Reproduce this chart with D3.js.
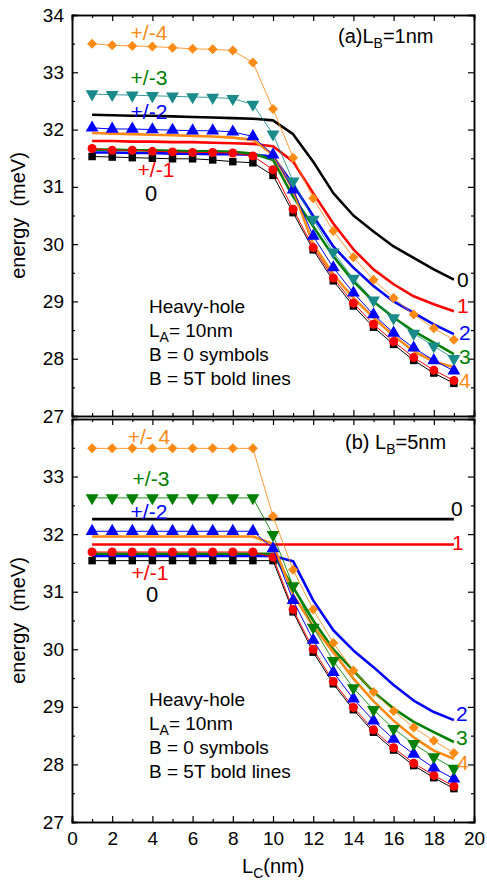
<!DOCTYPE html>
<html>
<head>
<meta charset="utf-8">
<script src="https://cdn.jsdelivr.net/npm/d3@7"></script>
<style>
  body { margin: 0; background: #fff; }
  text { font-family: "Liberation Sans", Arial, sans-serif; }
</style>
</head>
<body>
<div id="chart"></div>
<script>
// well width L_C (nm)
const lc = [1,2,3,4,5,6,7,8,9,10,11,12,13,14,15,16,17,18,19];

// (a) L_B = 1nm, B = 0 symbols (m = 0, +/-1 .. +/-4)
const symA0 = [31.53,31.52,31.51,31.50,31.49,31.49,31.47,31.44,31.42,31.20,30.55,29.90,29.36,28.92,28.55,28.25,27.97,27.75,27.57];
const symA1 = [31.67,31.64,31.64,31.62,31.61,31.60,31.60,31.59,31.54,31.30,30.61,29.94,29.41,28.97,28.60,28.30,28.02,27.80,27.62];
const symA2 = [32.03,32.01,32.01,32.00,31.99,31.98,31.98,31.96,31.88,31.56,30.95,30.14,29.59,29.15,28.77,28.45,28.19,27.97,27.79];
const symA3 = [32.62,32.61,32.60,32.59,32.58,32.57,32.56,32.54,32.44,31.92,31.10,30.43,29.86,29.40,29.02,28.71,28.44,28.22,28.00];
const symA4 = [33.50,33.47,33.46,33.45,33.43,33.41,33.40,33.38,33.17,32.36,31.51,30.80,30.23,29.77,29.38,29.06,28.77,28.53,28.33];
// (a) B = 5T bold lines (m = 0..4)
const boldA0 = [32.26,32.25,32.24,32.24,32.23,32.22,32.21,32.20,32.19,32.16,31.92,31.44,30.89,30.50,30.22,29.96,29.76,29.56,29.38];
const boldA1 = [31.80,31.80,31.79,31.79,31.78,31.78,31.77,31.76,31.75,31.71,31.44,30.89,30.36,29.91,29.56,29.30,29.09,28.95,28.83];
const boldA2 = [31.60,31.60,31.59,31.59,31.58,31.58,31.57,31.57,31.56,31.53,31.04,30.49,29.96,29.59,29.27,29.00,28.80,28.60,28.43];
const boldA3 = [31.65,31.65,31.64,31.64,31.63,31.62,31.62,31.61,31.58,31.47,30.83,30.31,29.79,29.35,29.00,28.72,28.48,28.28,28.08];
const boldA4 = [31.94,31.93,31.92,31.91,31.90,31.89,31.88,31.86,31.82,31.56,30.95,30.00,29.47,29.06,28.72,28.40,28.13,27.95,27.85];

// (b) L_B = 5nm, B = 0 symbols
const symB0 = [31.54,31.54,31.54,31.54,31.54,31.54,31.54,31.54,31.54,31.54,30.65,29.95,29.40,28.95,28.56,28.25,27.98,27.77,27.58];
const symB1 = [31.69,31.69,31.69,31.69,31.69,31.69,31.69,31.69,31.69,31.60,30.69,30.00,29.44,28.99,28.60,28.29,28.02,27.81,27.62];
const symB2 = [32.05,32.05,32.05,32.05,32.05,32.05,32.05,32.05,32.05,31.75,30.85,30.16,29.60,29.14,28.76,28.44,28.18,27.94,27.75];
const symB3 = [32.63,32.63,32.63,32.63,32.63,32.63,32.63,32.63,32.63,31.99,31.10,30.38,29.80,29.33,28.95,28.62,28.36,28.13,27.93];
const symB4 = [33.49,33.49,33.49,33.49,33.49,33.49,33.49,33.49,33.49,32.31,31.38,30.69,30.11,29.63,29.26,28.93,28.64,28.41,28.20];
// (b) B = 5T bold lines
const boldB0 = [32.26,32.26,32.26,32.26,32.26,32.26,32.26,32.26,32.26,32.26,32.26,32.26,32.26,32.26,32.26,32.26,32.26,32.26,32.26];
const boldB1 = [31.82,31.82,31.82,31.82,31.82,31.82,31.82,31.82,31.82,31.82,31.82,31.82,31.82,31.82,31.82,31.82,31.82,31.82,31.82];
const boldB2 = [31.62,31.62,31.62,31.62,31.62,31.62,31.62,31.62,31.62,31.62,31.53,30.85,30.33,29.98,29.69,29.38,29.11,28.91,28.77];
const boldB3 = [31.66,31.66,31.66,31.66,31.66,31.66,31.66,31.66,31.66,31.66,31.08,30.50,30.00,29.63,29.26,28.97,28.74,28.56,28.39];
const boldB4 = [31.96,31.96,31.96,31.96,31.96,31.96,31.96,31.96,31.96,31.83,30.95,30.40,29.95,29.49,29.10,28.76,28.47,28.24,28.10];

const xTicks = [0,2,4,6,8,10,12,14,16,18,20];
const yTicksA = [27,28,29,30,31,32,33,34];
const yTicksB = [27,28,29,30,31,32,33];
const endLabels = ["0","1","2","3","4"];

const C = { k: "#000000", r: "#ff0000", b: "#0000ff", g: "#008000", t: "#1a8a8a", o: "#ff8a14" };

const W = 487, H = 881;
const svg = d3.select("#chart").append("svg").attr("width", W).attr("height", H);

const x = d3.scaleLinear().domain([0, 20]).range([72, 474]);

function panel(top, bottom, yTicks, showX, syms, bolds, symColors, opts) {
  const y = d3.scaleLinear().domain([27, 34]).range([bottom, top]);
  const g = svg.append("g");

  // bold lines (B = 5T)
  const boldCols = [C.k, C.r, C.b, C.g, C.o];
  bolds.forEach((s, i) => {
    g.append("path")
      .datum(s)
      .attr("fill", "none")
      .attr("stroke", boldCols[i])
      .attr("stroke-width", 2.6)
      .attr("stroke-linejoin", "round")
      .attr("d", d3.line().x((d, j) => x(lc[j])).y(d => y(d)));
  });

  // symbol series (B = 0): square, circle, triangle up, triangle down, diamond
  const shapes = ["square", "circle", "up", "down", "diamond"];
  const sizes = [56, 64, 72, 72, 50];
  syms.forEach((s, i) => {
    g.append("path")
      .datum(s)
      .attr("fill", "none")
      .attr("stroke", symColors[i])
      .attr("stroke-opacity", i >= 3 ? 0.85 : 1)
      .attr("stroke-width", 1)
      .attr("d", d3.line().x((d, j) => x(lc[j])).y(d => y(d)));
    const type = { square: d3.symbolSquare, circle: d3.symbolCircle, up: d3.symbolTriangle,
      down: d3.symbolTriangle, diamond: d3.symbolSquare }[shapes[i]];
    const rot = shapes[i] === "down" ? " rotate(180)" : shapes[i] === "diamond" ? " rotate(45)" : "";
    g.selectAll(null)
      .data(s)
      .enter()
      .append("path")
      .attr("transform", (d, j) => `translate(${x(lc[j])},${y(d)})` + rot)
      .attr("fill", symColors[i])
      .attr("d", d3.symbol().type(type).size(sizes[i]));
  });

  // frame and ticks
  const yMinor = d3.range(27.5, 34, 1);
  const xMinor = d3.range(1, 20, 2);
  g.append("g").attr("transform", "translate(72,0)")
    .call(d3.axisLeft(y).tickValues(yTicks).tickSize(-6).tickPadding(8).tickFormat(d3.format("d")));
  g.append("g").attr("transform", "translate(474,0)")
    .call(d3.axisRight(y).tickValues(yTicksA).tickSize(-6).tickFormat(""));
  g.append("g").attr("transform", "translate(72,0)").call(d3.axisLeft(y).tickValues(yMinor).tickSize(-3).tickFormat(""));
  g.append("g").attr("transform", "translate(474,0)").call(d3.axisRight(y).tickValues(yMinor).tickSize(-3).tickFormat(""));
  g.append("g").attr("transform", `translate(0,${bottom})`)
    .call(d3.axisBottom(x).tickValues(xTicks).tickSize(-6).tickPadding(10).tickFormat(showX ? d3.format("d") : ""));
  g.append("g").attr("transform", `translate(0,${top})`)
    .call(d3.axisTop(x).tickValues(xTicks).tickSize(-6).tickFormat(""));
  g.append("g").attr("transform", `translate(0,${bottom})`)
    .call(d3.axisBottom(x).tickValues(xMinor).tickSize(-3).tickFormat(""));
  g.append("g").attr("transform", `translate(0,${top})`)
    .call(d3.axisTop(x).tickValues(xMinor).tickSize(-3).tickFormat(""));
  g.selectAll(".domain").attr("stroke", "#000").attr("stroke-width", 1.5);
  g.selectAll(".tick line").attr("stroke", "#000").attr("stroke-width", 1.2);
  g.selectAll(".tick text").attr("font-size", 19).attr("fill", "#000")
    .attr("font-family", "'Liberation Sans', Arial, sans-serif");

  // y title
  svg.append("text")
    .attr("transform", `translate(25,${(top + bottom) / 2}) rotate(-90)`)
    .attr("text-anchor", "middle")
    .attr("font-size", 20)
    .text("energy\u00a0\u00a0(meV)");

  // series labels
  opts.left.forEach(l => {
    svg.append("text").attr("x", l.x).attr("y", l.y).attr("text-anchor", "middle")
      .attr("font-size", l.size || 21).attr("fill", l.c).text(l.t);
  });
  opts.right.forEach((l, i) => {
    svg.append("text").attr("x", l.x).attr("y", l.y).attr("font-size", 21)
      .attr("fill", boldCols[i]).text(endLabels[i]);
  });

  // panel title
  const t = svg.append("text").attr("x", opts.title.x).attr("y", opts.title.y).attr("font-size", 20);
  t.append("tspan").text(opts.title.a);
  t.append("tspan").attr("font-size", 14).attr("dy", 5).text("B");
  t.append("tspan").attr("dy", -5).text(opts.title.b);

  // notes
  const notes = svg.append("g").attr("font-size", 19);
  notes.append("text").attr("x", 149).attr("y", opts.noteY).text("Heavy-hole");
  const la = notes.append("text").attr("x", 149).attr("y", opts.noteY + 24);
  la.append("tspan").text("L");
  la.append("tspan").attr("font-size", 14).attr("dy", 5).text("A");
  la.append("tspan").attr("dy", -5).text("= 10nm");
  notes.append("text").attr("x", 149).attr("y", opts.noteY + 48).text("B = 0 symbols");
  notes.append("text").attr("x", 149).attr("y", opts.noteY + 72).text("B = 5T bold lines");
}

panel(15, 416, yTicksA, false,
  [symA0, symA1, symA2, symA3, symA4],
  [boldA0, boldA1, boldA2, boldA3, boldA4],
  [C.k, C.r, C.b, C.t, C.o],
  {
    left: [
      { t: "+/-4", x: 149, y: 40, c: C.o },
      { t: "+/-3", x: 149, y: 85, c: C.g },
      { t: "+/-2", x: 149, y: 119, c: C.b },
      { t: "+/-1", x: 156, y: 177, c: C.r },
      { t: "0", x: 151, y: 201, c: C.k, size: 22 }
    ],
    right: [{ x: 457, y: 287 }, { x: 457, y: 313 }, { x: 459, y: 340 }, { x: 459, y: 364 }, { x: 459, y: 388 }],
    title: { x: 338, y: 43, a: "(a)L", b: "=1nm" },
    noteY: 313
  });

panel(419, 822, yTicksB, true,
  [symB0, symB1, symB2, symB3, symB4],
  [boldB0, boldB1, boldB2, boldB3, boldB4],
  [C.k, C.r, C.b, C.g, C.o],
  {
    left: [
      { t: "+/- 4", x: 149, y: 444, c: C.o },
      { t: "+/-3", x: 151, y: 486, c: C.g },
      { t: "+/-2", x: 149, y: 519, c: C.b },
      { t: "+/-1", x: 150, y: 580, c: C.r },
      { t: "0", x: 152, y: 602, c: C.k, size: 22 }
    ],
    right: [{ x: 451, y: 516 }, { x: 452, y: 550 }, { x: 456, y: 721 }, { x: 456, y: 745 }, { x: 457, y: 770 }],
    title: { x: 345, y: 449, a: "(b) L", b: "=5nm" },
    noteY: 706
  });

// x title
const xt = svg.append("text").attr("x", 242).attr("y", 873).attr("font-size", 20);
xt.append("tspan").text("L");
xt.append("tspan").attr("font-size", 14).attr("dy", 5).text("C");
xt.append("tspan").attr("dy", -5).text("(nm)");
</script>
</body>
</html>
